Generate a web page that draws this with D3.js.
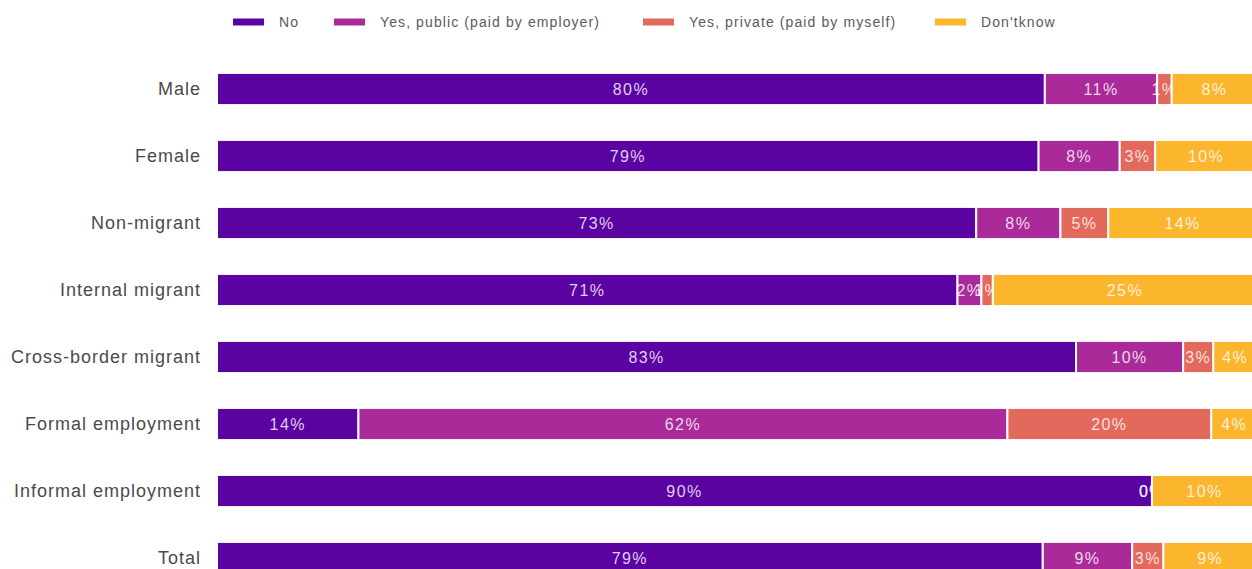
<!DOCTYPE html>
<html>
<head>
<meta charset="utf-8">
<script src="https://cdn.jsdelivr.net/npm/d3@7"></script>
<style>
  body { margin: 0; background: #fff; }
  svg { display: block; font-family: "Liberation Sans", Arial, sans-serif; }
  .cat-label { fill: #4a4a4a; font-size: 18px; letter-spacing: 1px; }
  .legend-label { fill: #5a5a5a; font-size: 14px; letter-spacing: 1.1px; }
  .bar-label { fill: #fff; fill-opacity: 0.82; font-size: 16px; letter-spacing: 1.4px; }
</style>
</head>
<body>
<svg id="chart" width="1252" height="569"></svg>
<script>
// categories (rows), top to bottom
const categories = ["Male", "Female", "Non-migrant", "Internal migrant", "Cross-border migrant",
    "Formal employment", "Informal employment", "Total"];

const seriesNames = ["No", "Yes, public (paid by employer)", "Yes, private (paid by myself)", "Don'tknow"];

// percent values, one array per series, in category order
const noValues      = [79.6, 79.0, 73.0, 71.2, 82.6, 13.6, 89.9, 79.4];
const publicValues  = [10.8,  7.8,  8.1,  2.3, 10.3, 62.4,  0.0,  8.6];
const privateValues = [ 1.4,  3.4,  4.6,  1.1,  2.9, 19.6,  0.0,  3.0];
const dontKnow      = [ 8.2,  9.8, 14.3, 25.4,  4.2,  4.4, 10.1,  9.0];

const colors = ["#5b02a3", "#a92a98", "#e2695b", "#fbb62d"];

const svg = d3.select("#chart");

let rows = categories.map((c, i) => ({
    cat: c,
    [seriesNames[0]]: noValues[i],
    [seriesNames[1]]: publicValues[i],
    [seriesNames[2]]: privateValues[i],
    [seriesNames[3]]: dontKnow[i],
}));

let stacked = d3.stack().keys(seriesNames)(rows);

// X scale, the right end runs slightly past the visible area
let x = d3.scaleLinear()
    .domain([0, 100])
    .range([217, 1257]);

// Y scale
let y = d3.scaleBand()
    .domain(categories)
    .range([55.5, 591.5])
    .paddingInner(0.52)
    .paddingOuter(0.26);

let color = d3.scaleOrdinal().domain(seriesNames).range(colors);

// Bars
let groups = svg.append("g")
    .selectAll("g")
    .data(stacked)
    .enter().append("g")
    .attr("fill", d => color(d.key));

groups.selectAll("rect")
    .data(d => d)
    .enter().append("rect")
    .attr("x", d => x(d[0]))
    .attr("y", d => y(d.data.cat))
    .attr("width", d => Math.max(0, x(d[1]) - x(d[0])))
    .attr("height", y.bandwidth())
    .attr("stroke", "#fff")
    .attr("stroke-width", 2);

// Segment labels (tiny segments overlap, as in the original)
groups.selectAll("text")
    .data(d => d)
    .enter().append("text")
    .attr("class", "bar-label")
    .attr("text-anchor", "middle")
    .attr("dominant-baseline", "central")
    .attr("x", d => (x(d[0]) + x(d[1])) / 2)
    .attr("y", d => y(d.data.cat) + y.bandwidth() / 2)
    .text(d => Math.round(d[1] - d[0]) + "%");

// Y-axis labels
let yAxis = d3.axisLeft(y).tickSize(0).tickPadding(16);
let yg = svg.append("g")
    .attr("transform", "translate(217,0)")
    .call(yAxis);
yg.select(".domain").remove();
yg.selectAll("text")
    .attr("class", "cat-label")
    .attr("fill", null)
    .attr("font-size", null)
    .attr("font-family", null);

// Legend
let legendX = [233, 334, 643, 935];
let legend = svg.append("g")
    .selectAll("g")
    .data(seriesNames)
    .enter().append("g")
    .attr("transform", (d, i) => "translate(" + legendX[i] + ",22)");

legend.append("rect")
    .attr("x", 0)
    .attr("y", -3.5)
    .attr("width", 31)
    .attr("height", 7)
    .attr("fill", d => color(d));

legend.append("text")
    .attr("class", "legend-label")
    .attr("x", 46)
    .attr("dy", "0.35em")
    .text(d => d);
</script>
</body>
</html>
